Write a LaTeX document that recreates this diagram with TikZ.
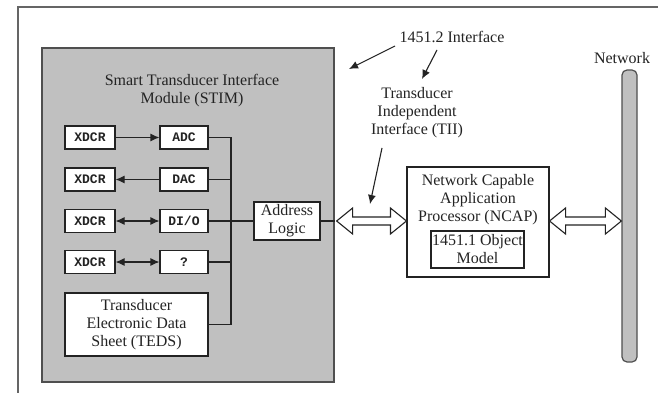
\documentclass[tikz,border=0pt]{standalone}
\usepackage{fontspec}
\setmainfont{Liberation Serif}
\newfontfamily\monof{Liberation Mono}
\usetikzlibrary{arrows.meta,calc}
\definecolor{stimgray}{RGB}{192,192,192}
\definecolor{ink}{RGB}{35,35,35}
\tikzset{
  box/.style={draw=ink, line width=1.1pt, fill=white, inner sep=0pt, text=ink},
  xbox/.style={box, minimum width=50pt, minimum height=23pt, font=\monof\bfseries\fontsize{13}{15}\selectfont},
  cbox/.style={box, minimum width=48pt, minimum height=23pt, font=\monof\bfseries\fontsize{13}{15}\selectfont},
  lbl/.style={align=center, text=ink, font=\fontsize{16}{18}\selectfont, inner sep=0pt},
  wire/.style={draw=ink, line width=1.1pt},
  tip/.style={-{Latex[length=9pt,width=8pt]}},
  dtip/.style={{Latex[length=9pt,width=8pt]}-{Latex[length=9pt,width=8pt]}},
  hollow/.style={draw=ink, line width=1.1pt, fill=white, line join=miter},
}
\begin{document}
\begin{tikzpicture}[x=1pt,y=-1pt]
\useasboundingbox (0,0) rectangle (658,393);
\fill[white] (0,0) rectangle (658,393);
% outer frame (top and left edges)
\draw[ink!70, line width=1.4pt] (18,393) -- (18,7) -- (658,7);
% STIM box
\node[draw=ink!80, line width=1.3pt, fill=stimgray, minimum width=292pt, minimum height=334pt, inner sep=0pt] (stim) at (188,215) {};
\node[lbl] (stimtitle) at (192,91) {Smart Transducer Interface\\Module (STIM)};
% transducers and converters
\node[xbox] (x1) at (90,137.5) {XDCR};
\node[xbox] (x2) at (90,179.5) {XDCR};
\node[xbox] (x3) at (90,221) {XDCR};
\node[xbox] (x4) at (90,262) {XDCR};
\node[cbox] (adc) at (184,137.5) {ADC};
\node[cbox] (dac) at (184,179.5) {DAC};
\node[cbox] (dio) at (184,221) {DI/O};
\node[cbox] (q) at (184,262) {?};
\node[box, lbl, minimum width=143pt, minimum height=63pt] (teds) at (136.5,324.5) {Transducer\\Electronic Data\\Sheet (TEDS)};
\node[box, lbl, minimum width=66pt, minimum height=38pt] (addr) at (287,221) {Address\\Logic};
\coordinate (bus) at (231,221);
\coordinate (stimr) at (stim.east |- addr.east);
% internal arrows
\draw[wire, tip] (x1) -- (adc);
\draw[wire, tip] (dac) -- (x2);
\draw[wire, dtip] (x3) -- (dio);
\draw[wire, dtip] (x4) -- (q);
% bus
\draw[wire] (adc.east) -| (bus |- teds.east) -- (teds.east);
\draw[wire] (dac.east) -- (bus |- dac.east);
\draw[wire] (q.east) -- (bus |- q.east);
\draw[wire] (dio.east) -- (addr.west);
\draw[wire] (addr.east) -- (stimr);
% NCAP
\node[box, minimum width=142pt, minimum height=110pt] (ncap) at (478,222) {};
\node[lbl, anchor=north] (ncaptext) at (478,174) {Network Capable\\Application\\Processor (NCAP)};
\node[box, lbl, minimum width=93pt, minimum height=37pt] (obj) at (477.5,249.5) {1451.1 Object\\Model};
% network bar
\node[draw=ink!80, line width=1.2pt, fill=stimgray, rounded corners=5pt, minimum width=15pt, minimum height=292pt, inner sep=0pt] (net) at (629.5,216) {};
\node[lbl] (netlbl) at (622,58) {Network};
% hollow double arrows
\coordinate (h1l) at ($(stimr)+(2,0)$);
\coordinate (h1r) at (ncap.west |- stimr);
\coordinate (h2l) at (ncap.east |- stimr);
\coordinate (h2r) at (net.west |- stimr);
\foreach \a/\b in {h1l/h1r, h2l/h2r}{
  \draw[hollow] (\a) -- ($(\a)+(16,13)$) -- ($(\a)+(16,4)$) -- ($(\b)+(-16,4)$) -- ($(\b)+(-16,13)$) -- (\b)
    -- ($(\b)+(-16,-13)$) -- ($(\b)+(-16,-4)$) -- ($(\a)+(16,-4)$) -- ($(\a)+(16,-13)$) -- cycle;
}
% interface labels
\node[lbl] (iface) at (452,37) {1451.2 Interface};
\node[lbl] (tii) at (417,113) {Transducer\\Independent\\Interface (TII)};
\coordinate (a1s) at (395,46);
\coordinate (a1e) at (349,69);
\coordinate (a2s) at (437,50);
\coordinate (a2e) at (422,79);
\coordinate (a3s) at (382,148);
\coordinate (a3e) at (370,204);
\draw[wire, tip] (a1s) -- (a1e);
\draw[wire, tip] (a2s) -- (a2e);
\draw[wire, tip] (a3s) -- (a3e);
\end{tikzpicture}
\end{document}
